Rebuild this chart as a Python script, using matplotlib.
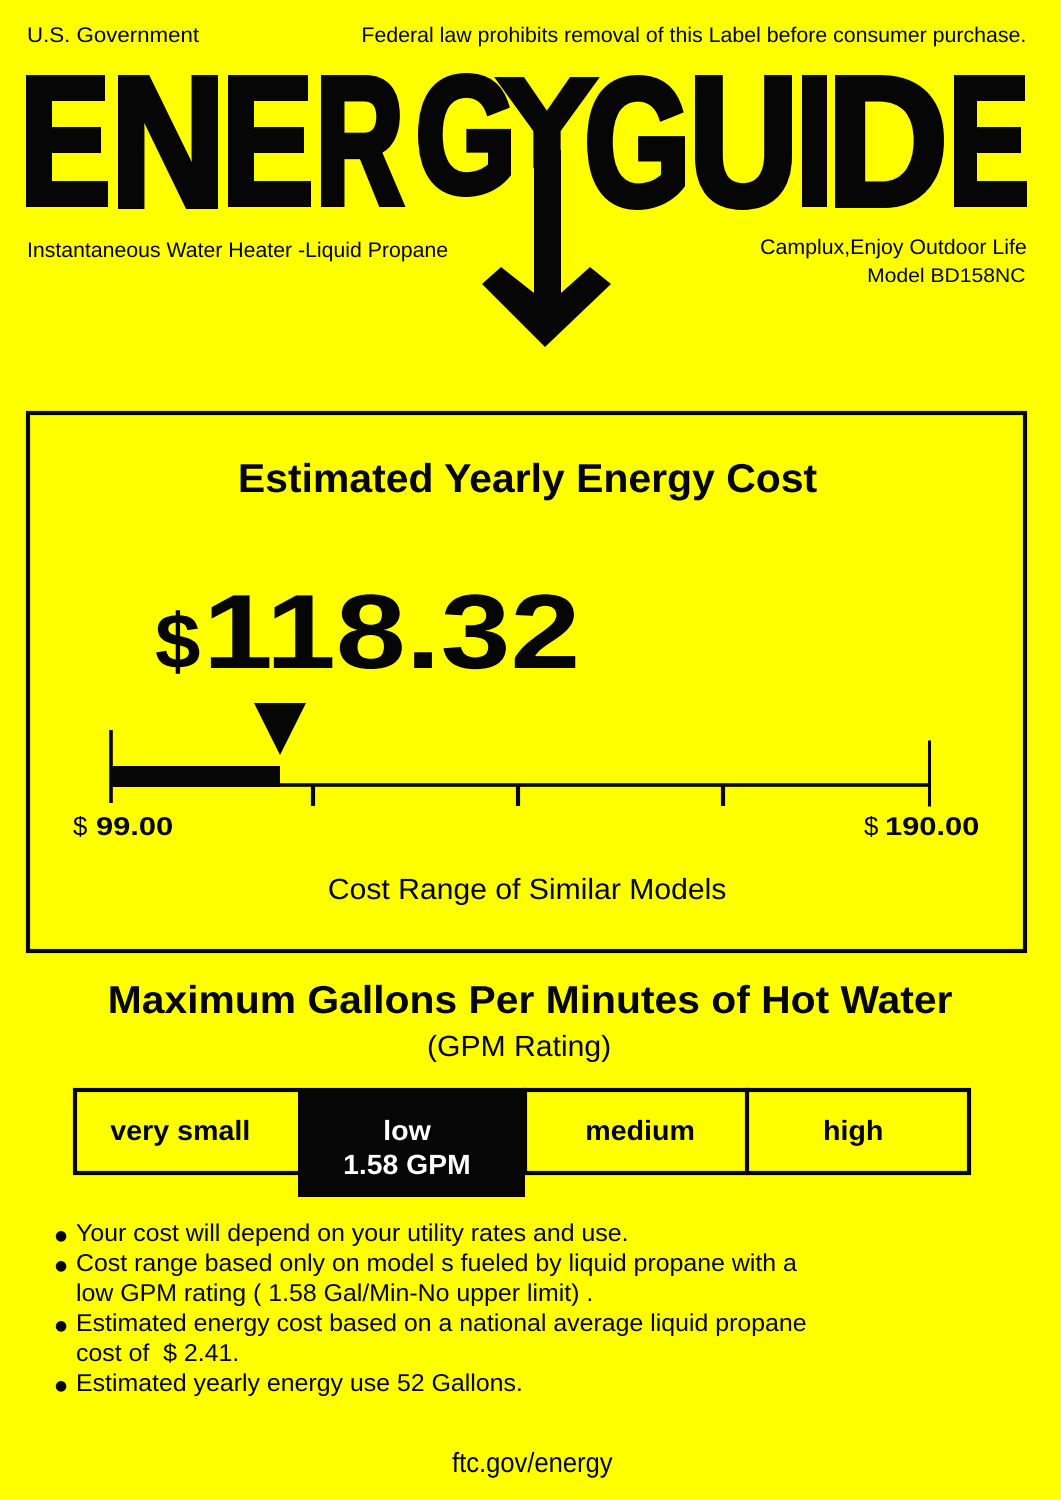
import matplotlib
matplotlib.use("Agg")
import matplotlib.pyplot as plt
from matplotlib.patches import Rectangle, Polygon
from matplotlib.font_manager import FontProperties
from matplotlib.textpath import TextPath
from matplotlib.transforms import Affine2D
import matplotlib.patheffects as pe

W, H = 1061, 1500
YELLOW = "#ffff00"
BLACK = "#060606"

cost_low = 99.00
cost_high = 190.00
cost_value = "118.32"
cost_bar_end = 117.8
cost_ticks = [121.5, 144.3, 167.1]

gpm_categories = ["very small", "low", "medium", "high"]
gpm_edges = [75, 297, 525, 747, 969]
gpm_label_x = [180, 407, 640, 853]
gpm_selected = "low"
gpm_value = "1.58 GPM"

title_letters = list("ENERGYGUIDE")
title_left = [26, 118, 228, 321, 418, 497, 587, 695, 802, 835, 954]
title_right = [108, 218, 311, 404, 511, 597, 685, 792, 827, 944, 1027]
title_top = [75, 75, 75, 75, 73, 77, 75, 75, 75, 75, 75]
title_bottom = [207, 209, 207, 207, 197, 168, 210, 210, 207, 208, 207]

bullets = [
    ("\u25cf", "Your cost will depend on your utility rates and use."),
    ("\u25cf", "Cost range based only on model s fueled by liquid propane with a"),
    ("", "low GPM rating ( 1.58 Gal/Min-No upper limit) ."),
    ("\u25cf", "Estimated energy cost based on a national average liquid propane"),
    ("", "cost of  $ 2.41."),
    ("\u25cf", "Estimated yearly energy use 52 Gallons."),
]

plt.rcParams["font.family"] = ["Liberation Sans", "DejaVu Sans"]

fig = plt.figure(figsize=(W / 100, H / 100), dpi=100, facecolor=YELLOW)
ax = fig.add_axes([0, 0, 1, 1])
ax.set_xlim(0, W)
ax.set_ylim(H, 0)
ax.axis("off")


class Stretch(pe.AbstractPathEffect):
    # scales a text about its anchor, the label's lettering is wider/taller than the font
    def __init__(self, x, y, sx=1.0, sy=1.0, stroke=0.0):
        super().__init__()
        self.px, self.py = ax.transData.transform((x, y))
        self.sx, self.sy = sx, sy
        self.stroke = stroke

    def draw_path(self, renderer, gc, tpath, affine, rgbFace=None):
        a = affine + Affine2D().translate(-self.px, -self.py).scale(self.sx, self.sy).translate(self.px, self.py)
        gc0 = renderer.new_gc()
        gc0.copy_properties(gc)
        if self.stroke:
            gc0.set_linewidth(self.stroke)
            gc0.set_foreground(rgbFace)
            gc0.set_joinstyle("miter")
        renderer.draw_path(gc0, tpath, a, rgbFace)
        gc0.restore()


def txt(x, y, s, size, ha="left", weight="normal", color=BLACK, sx=None, **kw):
    t = ax.text(x, y, s, fontsize=size, ha=ha, va="baseline", weight=weight, color=color, **kw)
    if sx:
        t.set_path_effects([Stretch(x, y, sx)])
    return t


# header
txt(27, 42, "U.S. Government", 15.2, sx=1.055)
txt(1026, 42, "Federal law prohibits removal of this Label before consumer purchase.", 15.2, ha="right", sx=1.01)
txt(27, 257, "Instantaneous Water Heater -Liquid Propane", 15.2, sx=1.007)
txt(1027, 254, "Camplux,Enjoy Outdoor Life", 15.2, ha="right", sx=1.01)
txt(1026, 282, "Model BD158NC", 14.2, ha="right", sx=1.07)

# big title, each letter fitted into the box it has on the label
title_size = 88
title_stroke = 6
title_font = FontProperties(family="Liberation Sans", weight="bold")
for ch, x0, x1, y0, y1 in zip(title_letters, title_left, title_right, title_top, title_bottom):
    box = TextPath((0, 0), ch, size=title_size * 100 / 72, prop=title_font).get_extents()
    sx = (x1 - x0 - title_stroke) / box.width
    sy = (y1 - y0 - title_stroke) / box.height
    ox = x0 + title_stroke / 2 - box.x0 * sx
    oy = y1 - title_stroke / 2 + box.y0 * sy
    t = ax.text(ox, oy, ch, fontsize=title_size, ha="left", va="baseline", weight="bold", color=BLACK)
    t.set_path_effects([Stretch(ox, oy, sx, sy, stroke=title_stroke * 0.72)])

# stem and head of the arrow under the Y
ax.add_patch(Polygon([[534, 150], [561, 150], [561, 293], [590, 267], [611, 284], [545, 347],
                      [482, 284], [501, 267], [534, 293]], closed=True, fc=BLACK, ec="none"))

# cost box
ax.add_patch(Rectangle((28, 413), 997, 538, fc="none", ec=BLACK, lw=3))
txt(527, 492, "Estimated Yearly Energy Cost", 29, ha="center", weight="bold", sx=1.016)
txt(155, 668, "$", 56, weight="bold", sx=1.05)
txt(203, 668, cost_value, 76, weight="bold", sx=1.19)

# cost scale, drawn on its own axes running from low to high cost
scale = fig.add_axes([111 / W, 1 - 810 / H, (929 - 111) / W, 110 / H])
scale.set_xlim(cost_low, cost_high)
scale.set_ylim(810, 700)
scale.axis("off")
scale.patch.set_alpha(0)
scale.hlines(785, cost_low, cost_high, color=BLACK, lw=2.6)
scale.barh(776.5, cost_bar_end - cost_low, left=cost_low, height=21, color=BLACK)
scale.vlines(cost_low, 730, 803, color=BLACK, lw=2.6, clip_on=False)
scale.vlines(cost_high, 740, 806, color=BLACK, lw=2.2, clip_on=False)
scale.vlines(cost_ticks, 785, 806, color=BLACK, lw=3)
scale.plot([cost_bar_end], [729], marker="v", ms=37, color=BLACK, mew=0, clip_on=False)

txt(73, 835, "$", 18.5)
txt(96, 835, f"{cost_low:.2f}", 18.5, weight="bold", sx=1.2)
txt(864, 835, "$", 18.5)
txt(885, 835, f"{cost_high:.2f}", 18.5, weight="bold", sx=1.2)
txt(527, 899, "Cost Range of Similar Models", 21, ha="center", sx=1.033)

# GPM section
txt(530, 1013, "Maximum Gallons Per Minutes of Hot Water", 28, ha="center", weight="bold", sx=1.05)
txt(519, 1056, "(GPM Rating)", 21, ha="center", sx=1.033)

ax.add_patch(Rectangle((gpm_edges[0], 1090), gpm_edges[-1] - gpm_edges[0], 83, fc="none", ec=BLACK, lw=3))
for i, name in enumerate(gpm_categories):
    left, right = gpm_edges[i], gpm_edges[i + 1]
    cx = gpm_label_x[i]
    if name == gpm_selected:
        ax.add_patch(Rectangle((left + 1, 1088), right - left - 1, 109, fc=BLACK, ec="none"))
        txt(cx, 1140, name, 20, ha="center", weight="bold", color="white", sx=1.03)
        txt(cx, 1174, gpm_value, 20, ha="center", weight="bold", color="white", sx=1.02)
    else:
        if i > 0:
            ax.plot([left, left], [1090, 1173], color=BLACK, lw=3)
        txt(cx, 1140, name, 20, ha="center", weight="bold", sx=1.03)

# notes
for i, (mark, line) in enumerate(bullets):
    y = 1241 + i * 30
    if mark:
        txt(54, y - 2, mark, 10, family="DejaVu Sans")
    txt(76, y, line, 17.5, sx=1.024)

txt(532, 1472, "ftc.gov/energy", 20, ha="center", sx=0.92)

fig.savefig("out.png", dpi=100, facecolor=YELLOW)
